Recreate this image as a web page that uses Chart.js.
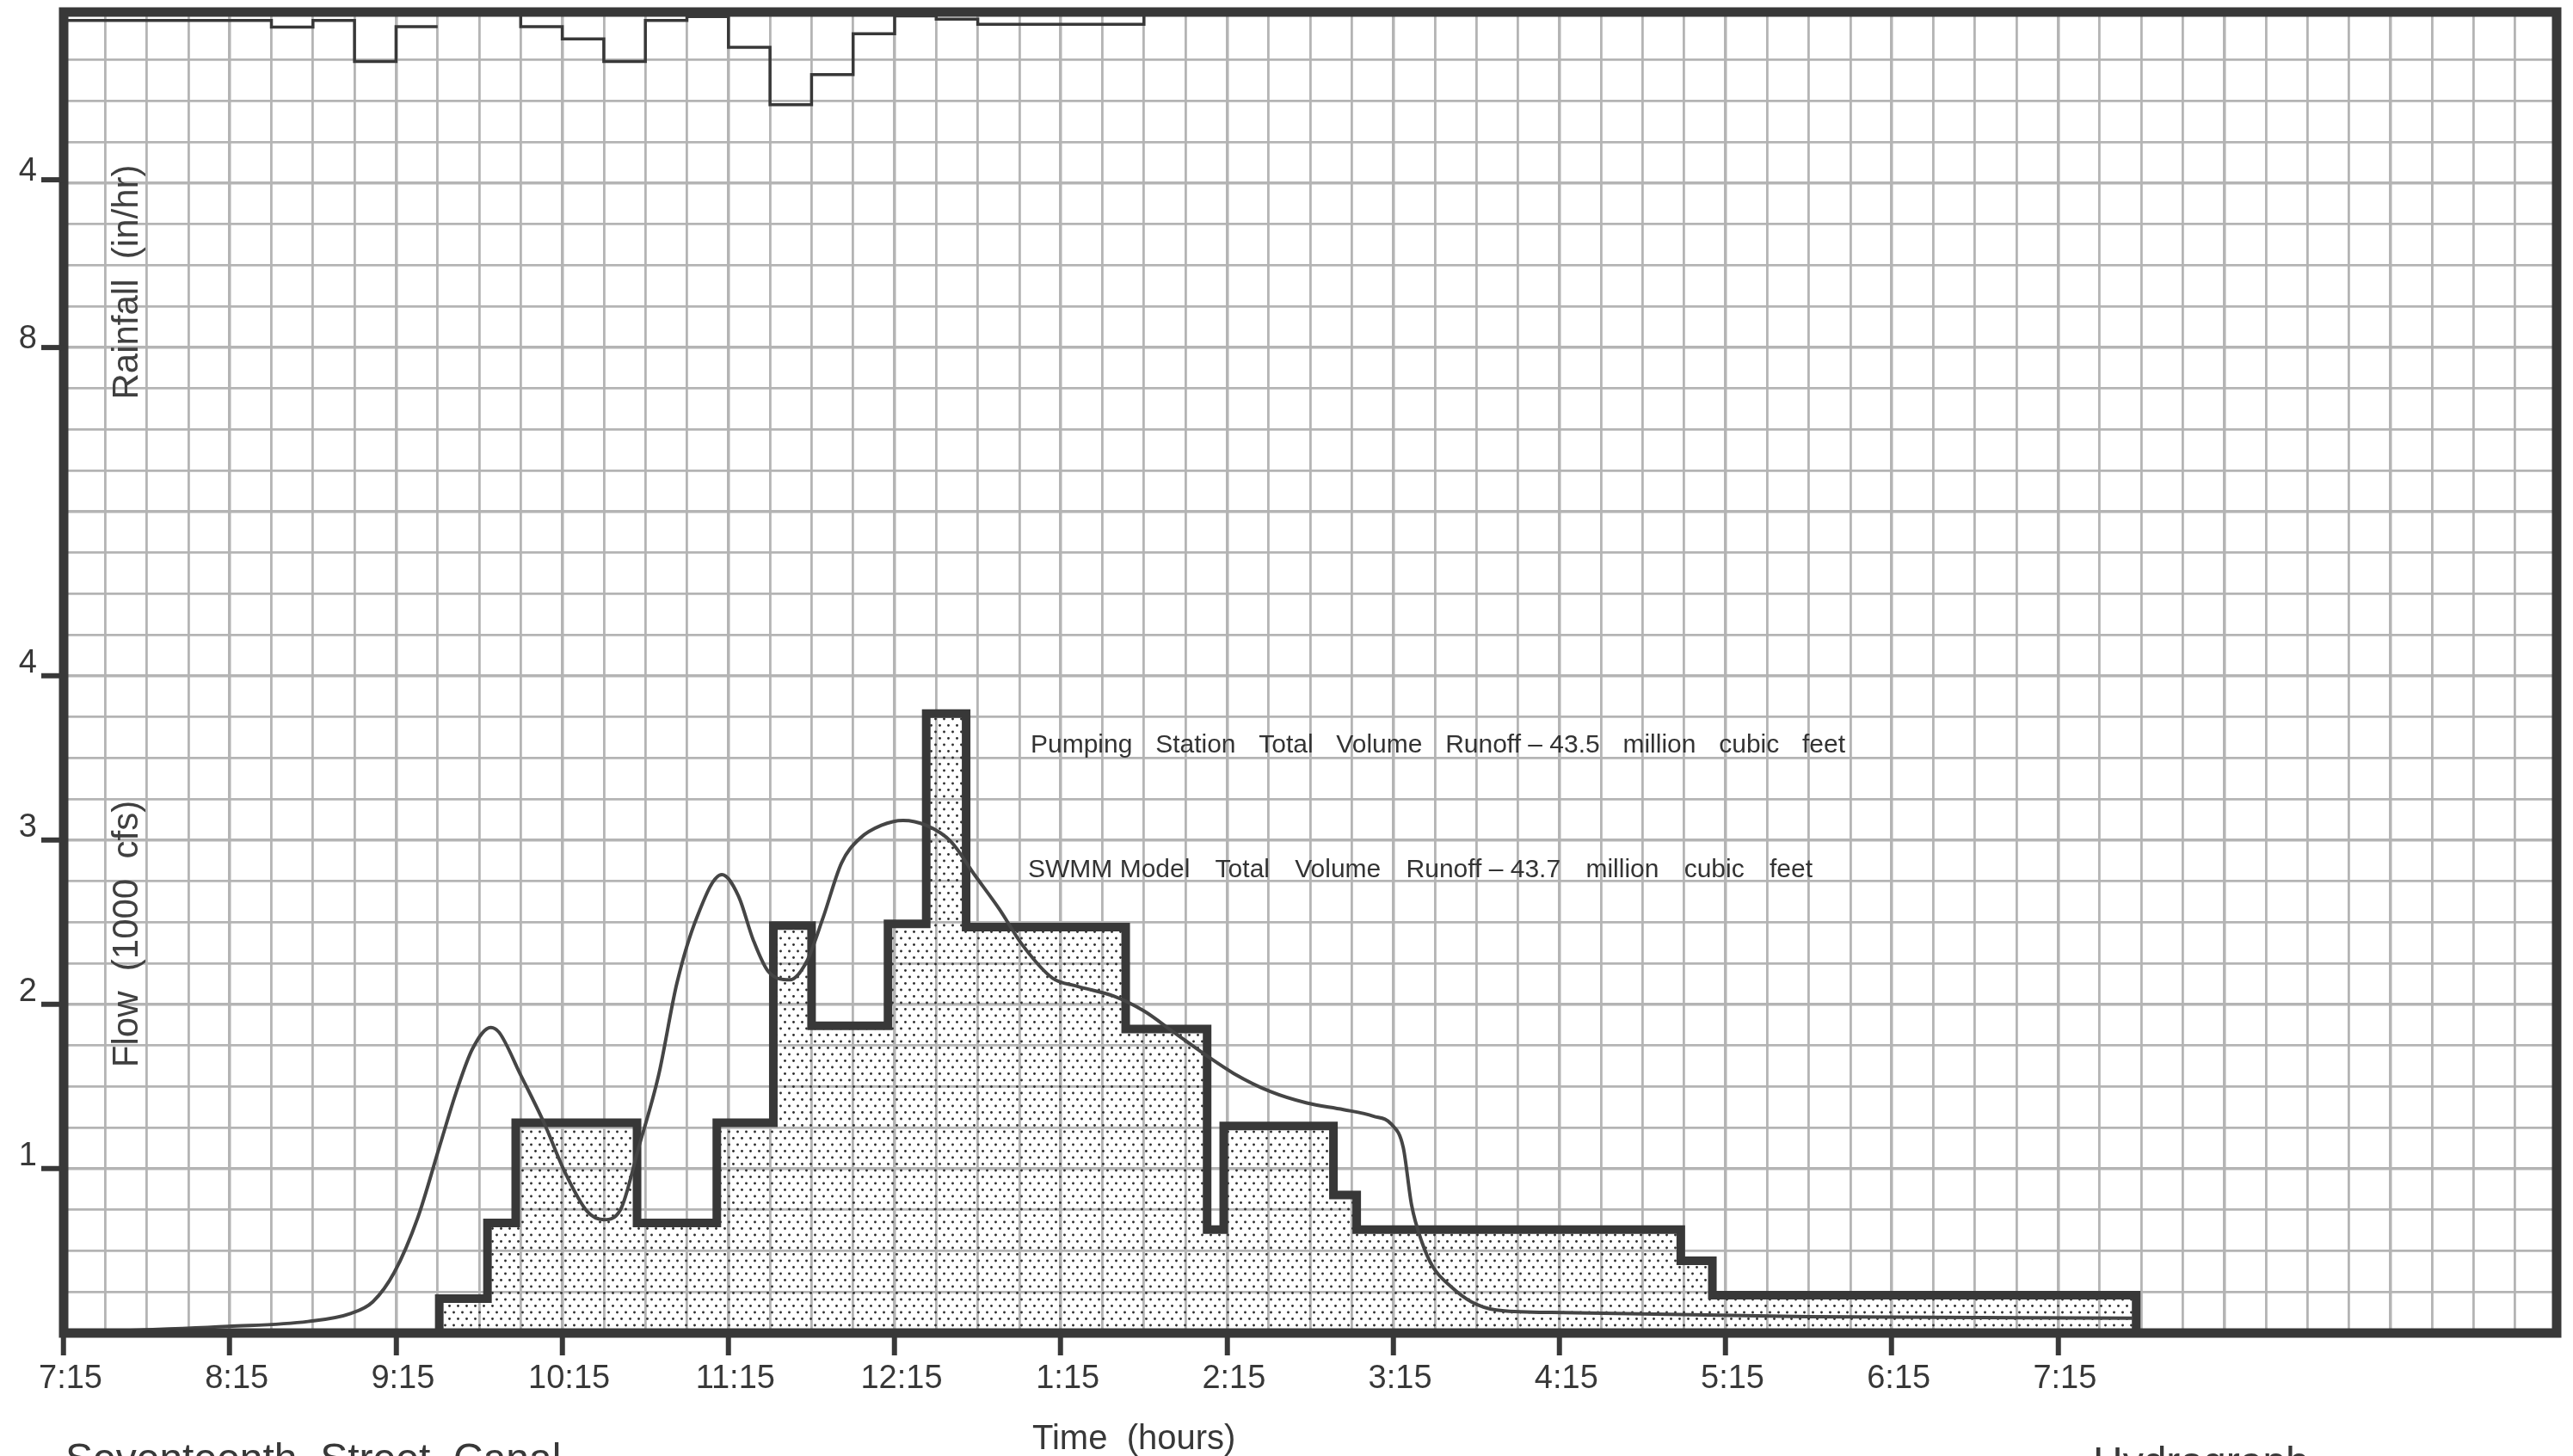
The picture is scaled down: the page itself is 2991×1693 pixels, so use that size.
<!DOCTYPE html>
<html>
<head>
<meta charset="utf-8">
<title>Seventeenth Street Canal Hydrograph</title>
<script src="https://cdn.jsdelivr.net/npm/chart.js@4/dist/chart.umd.min.js"></script>
<style>
  html, body { margin: 0; padding: 0; background: #ffffff; }
  #wrap { width: 2991px; height: 1693px; }
  canvas { display: block; }
</style>
</head>
<body>
<div id="wrap"><canvas id="c" width="2991" height="1693"></canvas></div>
<script>
// Clock labels for each hour mark on the time axis (hours after 7:15)
const timeLabels = ['7:15', '8:15', '9:15', '10:15', '11:15', '12:15', '1:15', '2:15', '3:15', '4:15', '5:15', '6:15', '7:15'];
const flowTicks = [1, 2, 3, 4];      // 1000 cfs
const rainTicks = [4, 8];            // in/hr, measured down from the top edge

// Pumping station record: flow (1000 cfs) held from each time (hours after 7:15) to the next
const pumpTime = [2.26, 2.26, 2.55, 2.72, 3.45, 3.93, 4.27, 4.50, 4.96, 5.19, 5.43, 6.39, 6.88, 6.98, 7.64, 7.78, 9.73, 9.92, 12.47];
const pumpFlow = [0, 0.21, 0.67, 1.28, 0.67, 1.28, 2.48, 1.87, 2.49, 3.77, 2.47, 1.85, 0.63, 1.26, 0.84, 0.63, 0.44, 0.23, 0.23];

// SWMM model hydrograph (1000 cfs)
const swmmTime = [0, 0.99, 1.47, 1.73, 1.86, 1.99, 2.13, 2.26, 2.36, 2.46, 2.57, 2.62, 2.75, 2.89, 3.02, 3.15, 3.25, 3.35, 3.46, 3.58, 3.69, 3.81, 3.96, 4.06, 4.15, 4.24, 4.37, 4.47, 4.57, 4.68, 4.79, 4.92, 5.05, 5.19, 5.34, 5.48, 5.63, 5.77, 5.95, 6.10, 6.32, 6.50, 6.68, 6.86, 7.04, 7.26, 7.48, 7.70, 7.88, 7.99, 8.06, 8.11, 8.17, 8.24, 8.35, 8.47, 8.62, 8.95, 10.50, 12.45];
const swmmFlow = [0, 0.04, 0.07, 0.12, 0.19, 0.37, 0.70, 1.13, 1.46, 1.73, 1.86, 1.83, 1.57, 1.28, 0.97, 0.74, 0.69, 0.75, 1.13, 1.57, 2.13, 2.53, 2.79, 2.66, 2.39, 2.20, 2.15, 2.26, 2.53, 2.86, 3.01, 3.09, 3.12, 3.09, 2.99, 2.79, 2.58, 2.36, 2.16, 2.11, 2.05, 1.96, 1.83, 1.70, 1.58, 1.47, 1.40, 1.36, 1.32, 1.27, 1.13, 0.78, 0.56, 0.40, 0.28, 0.19, 0.14, 0.125, 0.10, 0.09];

// Rainfall intensity (in/hr) held from each time to the next; null marks the missing record
const rainTime = [0, 1.25, 1.5, 1.75, 2.0, 2.25, 2.5, 2.75, 2.75, 3.0, 3.25, 3.5, 3.75, 4.0, 4.25, 4.5, 4.75, 5.0, 5.25, 5.5, 6.5, 6.5];
const rainRate = [0.20, 0.36, 0.20, 1.18, 0.35, 0.35, null, 0, 0.35, 0.64, 1.18, 0.20, 0.11, 0.84, 2.21, 1.49, 0.52, 0.09, 0.17, 0.29, 0.29, 0];

const INK = '#383838';
const FONT = '"Liberation Sans", Arial, Helvetica, sans-serif';

const canvas = document.getElementById('c');
const mainCtx = canvas.getContext('2d');

// Stipple used under the pumping station record
function makeStipple() {
  const t = document.createElement('canvas');
  t.width = 10; t.height = 15;
  const g = t.getContext('2d');
  g.fillStyle = '#2e2e2e';
  [[2.5, 3.5], [7.5, 11]].forEach(([x, y]) => {
    g.beginPath(); g.arc(x, y, 1.45, 0, Math.PI * 2); g.fill();
  });
  return mainCtx.createPattern(t, 'repeat');
}

// Points whose value holds until the next time: level first, then the jump
const held = (xs, ys) => {
  const pts = [];
  xs.forEach((x, i) => {
    if (i > 0 && ys[i - 1] !== null && ys[i] !== null) pts.push({ x: x, y: ys[i - 1] });
    pts.push({ x: x, y: ys[i] });
  });
  return pts;
};
const xy = (xs, ys) => xs.map((x, i) => ({ x: x, y: ys[i] }));

// Spread words across a fixed width
function justify(ctx, tokens, x, y, width) {
  const widths = tokens.map(t => ctx.measureText(t).width);
  const total = widths.reduce((a, b) => a + b, 0);
  const gap = (width - total) / (tokens.length - 1);
  let cx = x;
  tokens.forEach((t, i) => { ctx.fillText(t, cx, y); cx += widths[i] + gap; });
}

const isWhole = v => Math.abs(v - Math.round(v)) < 1e-9;

const decor = {
  id: 'decor',
  afterDatasetsDraw(chart) {
    const { ctx, chartArea: a, scales } = chart;
    ctx.save();

    // Frame
    ctx.strokeStyle = INK;
    ctx.lineWidth = 11;
    ctx.lineJoin = 'miter';
    ctx.strokeRect(a.left, a.top, a.right - a.left, a.bottom - a.top);

    // Rainfall scale ticks
    const rs = scales.rain;
    ctx.fillStyle = INK;
    ctx.font = '38px ' + FONT;
    ctx.textAlign = 'right';
    ctx.textBaseline = 'middle';
    rainTicks.forEach(v => {
      const py = rs.getPixelForValue(v);
      ctx.lineWidth = 6;
      ctx.beginPath(); ctx.moveTo(a.left - 26, py); ctx.lineTo(a.left, py); ctx.stroke();
      ctx.fillText(String(v), a.left - 31, py - 10);
    });

    // Vertical axis titles inside the plot
    ctx.fillStyle = '#404040';
    ctx.font = '42px ' + FONT;
    ctx.textAlign = 'center';
    [['Rainfall  (in/hr)', 328], ['Flow  (1000  cfs)', 1086]].forEach(([txt, cy]) => {
      ctx.save();
      ctx.translate(a.left + 74, cy);
      ctx.rotate(-Math.PI / 2);
      ctx.fillText(txt, 0, 0);
      ctx.restore();
    });

    // Runoff volume notes
    ctx.fillStyle = '#333333';
    ctx.font = '30px ' + FONT;
    ctx.textAlign = 'left';
    ctx.textBaseline = 'alphabetic';
    justify(ctx, ['Pumping', 'Station', 'Total', 'Volume', 'Runoff \u2013 43.5', 'million', 'cubic', 'feet'], 1198, 875, 947);
    justify(ctx, ['SWMM Model', 'Total', 'Volume', 'Runoff \u2013 43.7', 'million', 'cubic', 'feet'], 1195, 1020, 912);

    // Axis title and captions
    ctx.fillStyle = INK;
    ctx.font = '40px ' + FONT;
    ctx.fillText('Time  (hours)', 1200, 1685);
    ctx.font = '48px ' + FONT;
    ctx.fillText('Seventeenth  Street  Canal', 76, 1712);
    ctx.fillText('Hydrograph', 2433, 1716);

    ctx.restore();
  }
};

new Chart(canvas, {
  type: 'line',
  data: {
    datasets: [
      {
        label: 'Pumping Station',
        data: held(pumpTime, pumpFlow).concat([{ x: pumpTime[pumpTime.length - 1], y: 0 }]),
        yAxisID: 'y',
        borderColor: INK,
        borderWidth: 10,
        borderJoinStyle: 'miter',
        borderCapStyle: 'butt',
        fill: 'origin',
        backgroundColor: makeStipple(),
        pointRadius: 0,
        tension: 0,
        order: 3
      },
      {
        label: 'SWMM Model',
        data: xy(swmmTime, swmmFlow),
        yAxisID: 'y',
        cubicInterpolationMode: 'monotone',
        borderColor: '#454545',
        borderWidth: 4,
        fill: false,
        pointRadius: 0,
        order: 2
      },
      {
        label: 'Rainfall',
        data: held(rainTime, rainRate),
        yAxisID: 'rain',
        spanGaps: false,
        borderColor: INK,
        borderWidth: 3.5,
        fill: false,
        pointRadius: 0,
        tension: 0,
        order: 1
      }
    ]
  },
  options: {
    responsive: false,
    animation: false,
    events: [],
    layout: { padding: { top: 14, right: 19, left: 0, bottom: 0 } },
    plugins: { legend: { display: false }, tooltip: { enabled: false } },
    scales: {
      x: {
        type: 'linear',
        min: 0,
        max: 15,
        afterFit: s => { s.height = 143; s.paddingLeft = 0; s.paddingRight = 0; },
        border: { display: false },
        grid: {
          color: '#b4b4b4',
          lineWidth: c => (isWhole(c.tick.value) ? 3.5 : 2.8),
          drawTicks: true,
          tickLength: 26,
          tickWidth: 6,
          tickColor: c => (isWhole(c.tick.value) && c.tick.value <= 12 ? INK : 'rgba(0,0,0,0)')
        },
        ticks: {
          stepSize: 0.25,
          autoSkip: false,
          maxRotation: 0,
          padding: 5,
          labelOffset: 8,
          color: INK,
          font: { family: FONT, size: 38 },
          callback: v => (isWhole(v) && Math.round(v) < timeLabels.length ? timeLabels[Math.round(v)] : '')
        }
      },
      y: {
        type: 'linear',
        position: 'left',
        min: 0,
        max: 8.04,
        afterFit: s => { s.width = 74; s.paddingTop = 0; s.paddingBottom = 0; },
        border: { display: false },
        grid: {
          color: '#b4b4b4',
          lineWidth: c => (isWhole(c.tick.value) ? 3.5 : 2.8),
          drawTicks: true,
          tickLength: 26,
          tickWidth: 6,
          tickColor: c => (flowTicks.includes(c.tick.value) ? INK : 'rgba(0,0,0,0)')
        },
        ticks: {
          stepSize: 0.25,
          autoSkip: false,
          padding: 5,
          labelOffset: -14,
          color: INK,
          font: { family: FONT, size: 38 },
          callback: v => (flowTicks.includes(v) ? String(v) : '')
        }
      },
      rain: {
        type: 'linear',
        position: 'left',
        display: false,
        reverse: true,
        min: 0,
        max: 31.5
      }
    }
  },
  plugins: [decor]
});
</script>
</body>
</html>
